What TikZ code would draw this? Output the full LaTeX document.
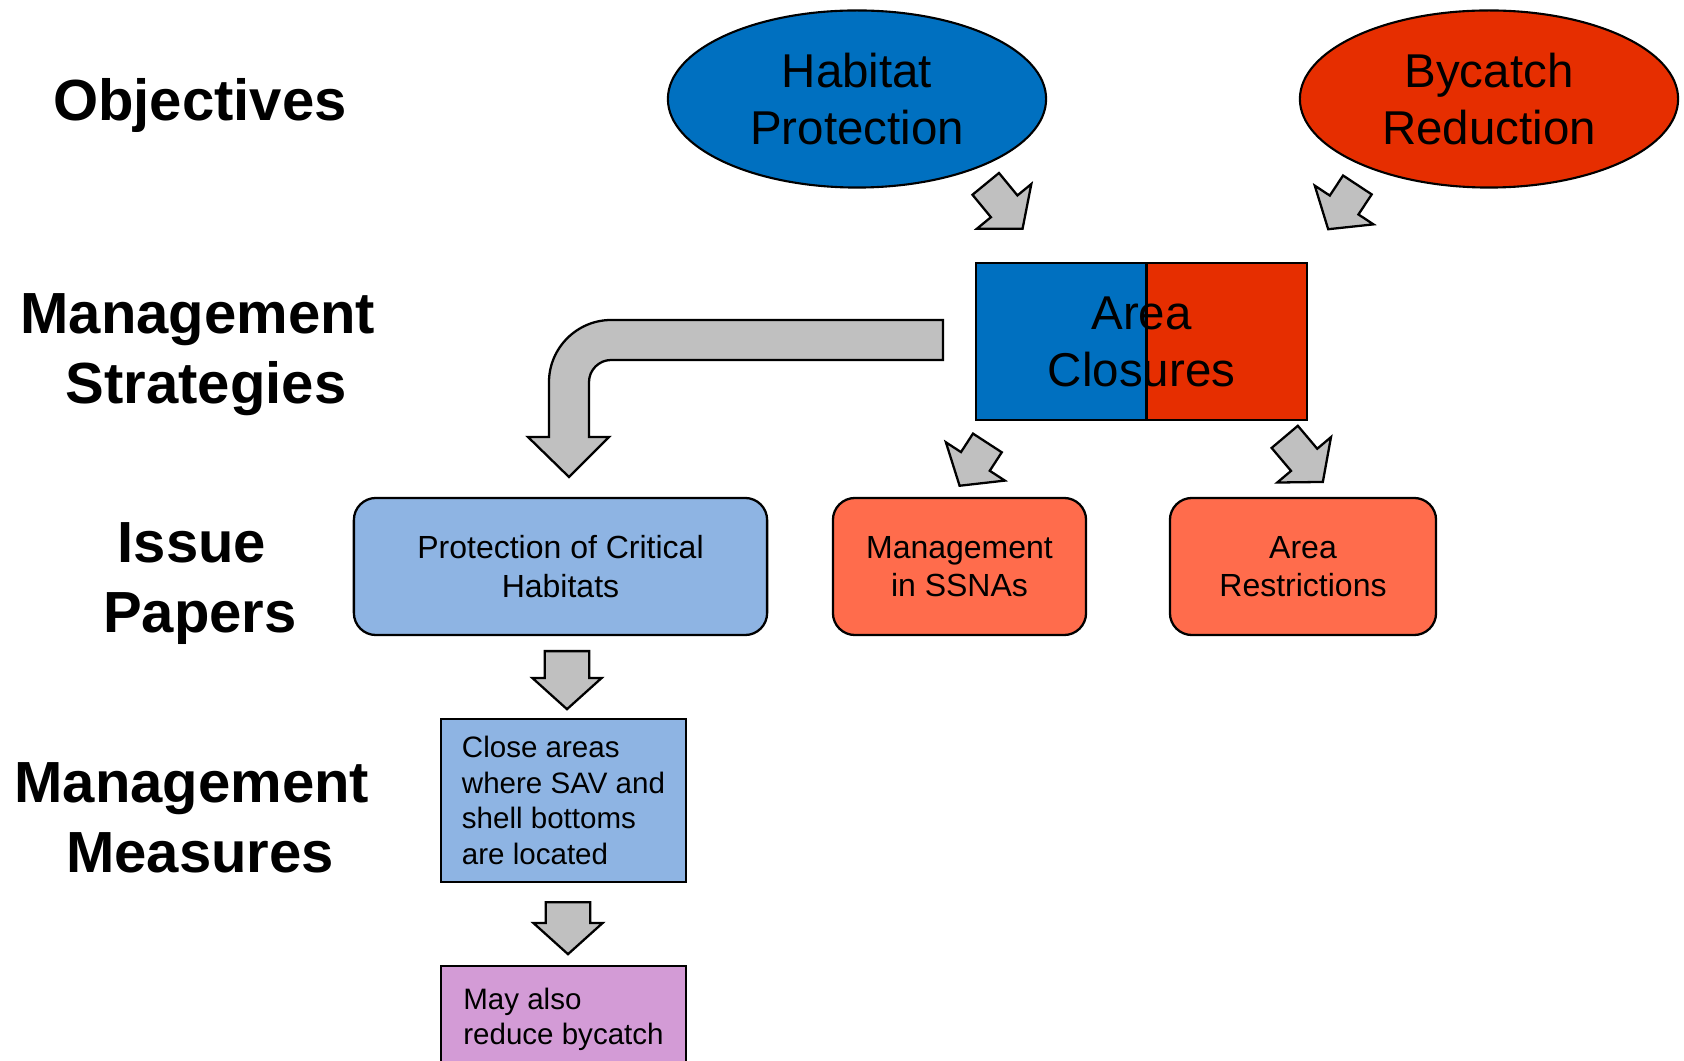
\documentclass[tikz,border=0pt]{standalone}
\usepackage{fontspec}
\setmainfont{Liberation Sans}
\usetikzlibrary{shapes.geometric}
\usetikzlibrary{shapes.arrows}

\definecolor{habitatblue}{HTML}{0070C0}
\definecolor{bycatchred}{HTML}{E62E00}
\definecolor{paleblue}{HTML}{8EB4E3}
\definecolor{salmon}{HTML}{FF6C4C}
\definecolor{orchid}{HTML}{D39BD6}
\definecolor{arrowgray}{HTML}{C0C0C0}

\begin{document}
\begin{tikzpicture}[x=0.01cm, y=-0.01cm,
	level/.style={align=center, font=\fontsize{16.5}{19.9}\selectfont\bfseries},
	objective/.style={ellipse, draw, line width=0.6pt, minimum width=3.78cm, minimum height=1.77cm, inner sep=0pt, align=center, font=\fontsize{13.5}{16.2}\selectfont},
	issue/.style={draw, line width=0.65pt, rounded corners=0.22cm, minimum height=1.37cm, align=center, font=\fontsize{9.1}{11}\selectfont},
	measure/.style={draw, line width=0.65pt, minimum width=2.45cm, align=left, font=\fontsize{8.4}{10.07}\selectfont},
	blockarrow/.style={single arrow, draw, fill=arrowgray, line width=0.65pt, inner xsep=0pt, inner ysep=0.16cm, anchor=tail, single arrow head extend=0.18cm, single arrow tip angle=101},
	downarrow/.style={blockarrow, rotate=-90, inner ysep=0.21cm, single arrow head extend=0.125cm, single arrow tip angle=96}]
	\useasboundingbox (0,0) rectangle (1684,1061);

	\node[level] (objectives) at (200,106) {Objectives};
	\node[level] (strategies) at (206,355) {Management\hspace*{.278em}\\Strategies};
	\node[level] (papers) at (200,584) {Issue\hspace*{.278em}\\Papers};
	\node[level] (measures) at (200,818) {Management\hspace*{.278em}\\Measures};

	\node[objective, fill=habitatblue] (habitat) at (857,99) {Habitat\\Protection};
	\node[objective, fill=bycatchred] (bycatch) at (1489,99) {Bycatch\\Reduction};

	\node[draw, line width=0.65pt, minimum width=3.31cm, minimum height=1.57cm, align=center, font=\fontsize{13.5}{16.2}\selectfont,
		path picture={
			\fill[habitatblue] (path picture bounding box.south west) rectangle ([xshift=0.05cm]path picture bounding box.north);
			\fill[bycatchred] ([xshift=0.05cm]path picture bounding box.south) rectangle (path picture bounding box.north east);
			\draw[line width=0.65pt] ([xshift=0.05cm]path picture bounding box.south) -- ([xshift=0.05cm]path picture bounding box.north);
		}] (closures) at (1141.5,341.5) {Area\\Closures};

	\node[issue, fill=paleblue, minimum width=4.13cm] (critical) at (560.5,566.5) {Protection of Critical\\Habitats};
	\node[issue, fill=salmon, minimum width=2.53cm] (ssna) at (959.5,566.5) {Management\\in SSNAs};
	\node[issue, fill=salmon, minimum width=2.66cm] (restrict) at (1303,566.5) {Area\\Restrictions};

	\node[measure, fill=paleblue, minimum height=1.63cm] (close) at (563.5,800.5) {Close areas\\where SAV and\\shell bottoms\\are located};
	\node[measure, fill=orchid, inner ysep=0.22cm, anchor=north] (alsobycatch) at (563.5,965) {May also\\reduce bycatch};

	\node[blockarrow, rotate=-50.6, minimum height=0.58cm] (habitatarrow) at (985,183) {};
	\node[blockarrow, rotate=-123.4, minimum height=0.53cm] (bycatcharrow) at (1358,184) {};
	\node[blockarrow, rotate=-123, minimum height=0.51cm] (ssnaarrow) at (988,442) {};
	\node[blockarrow, rotate=-49.8, minimum height=0.59cm] (restrictarrow) at (1284,436) {};
	\node[downarrow, minimum height=0.58cm] (closearrow) at (567,650) {};
	\node[downarrow, minimum height=0.52cm] (alsoarrow) at (568,901) {};

	\draw[fill=arrowgray, line width=0.65pt] (943,320) -- (611,320) .. controls (577,320) and (549,348) .. (549,382) -- (549,437) -- (528,437) -- (569,477) -- (609,437) -- (589,437) -- (589,382) .. controls (589,370) and (599,360) .. (611,360) -- (943,360) -- cycle;
\end{tikzpicture}
\end{document}
